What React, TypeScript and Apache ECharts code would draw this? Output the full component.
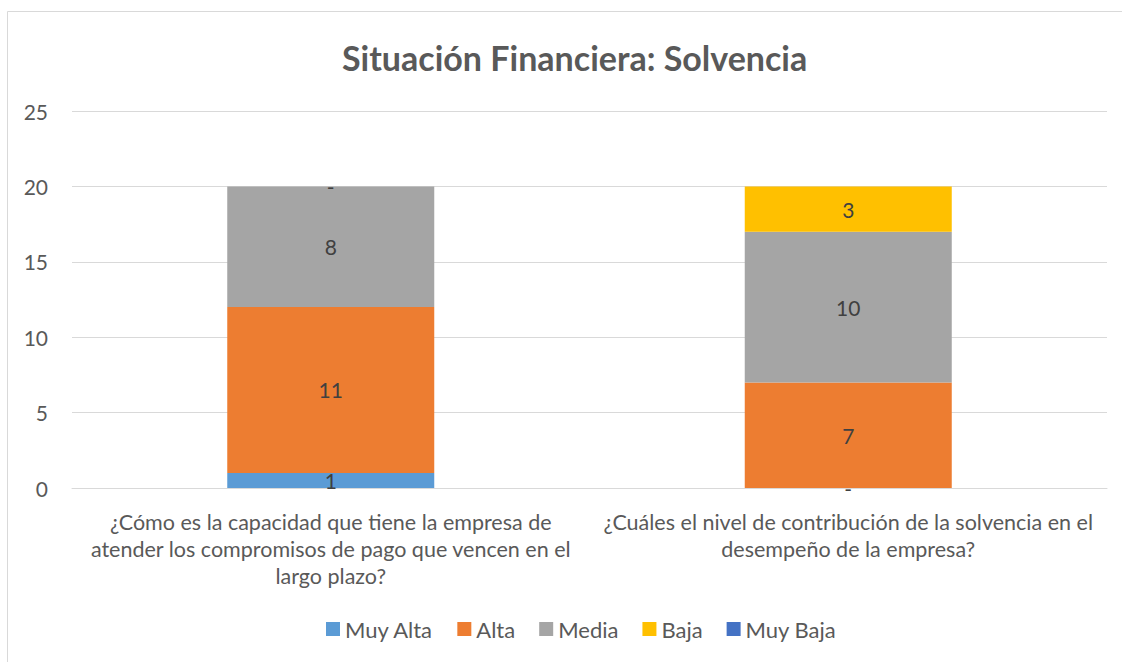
import React, { useEffect, useRef } from "react";
import * as echarts from "echarts";

const title = "Situación Financiera: Solvencia";
const categories = [
  "¿Cómo es la capacidad que tiene la empresa de\natender los compromisos de pago que vencen en el\nlargo plazo?",
  "¿Cuáles el nivel de contribución de la solvencia en el\ndesempeño de la empresa?",
];
const seriesNames = ["Muy Alta", "Alta", "Media", "Baja", "Muy Baja"];
const muyAlta = [1, 0];
const alta = [11, 7];
const media = [8, 10];
const baja = [0, 3];
const muyBaja = [null, null];
const colors = ["#5b9bd5", "#ed7d31", "#a5a5a5", "#ffc000", "#4472c4"];
const yTicks = { min: 0, max: 25, interval: 5 };

const FONT = "Lato, 'Open Sans', sans-serif";

export default function App() {
  const ref = useRef<HTMLDivElement>(null);
  useEffect(() => {
    document.body.style.margin = "0";
    const chart = echarts.init(ref.current!, null, { renderer: "svg" });
    const values = [muyAlta, alta, media, baja, muyBaja];
    chart.setOption({
      animation: false,
      color: colors,
      textStyle: { fontFamily: FONT },
      title: {
        text: title,
        left: 337,
        top: 35,
        textStyle: { fontSize: 34, fontWeight: "bold", color: "#595959", fontFamily: FONT },
      },
      graphic: [
        {
          type: "rect",
          shape: { x: 7.5, y: 11.5, width: 1200, height: 700 },
          style: { fill: "none", stroke: "#d9d9d9", lineWidth: 1 },
          silent: true,
        },
      ],
      legend: {
        bottom: 17,
        left: 321,
        itemWidth: 14,
        itemHeight: 14,
        itemGap: 24,
        icon: "rect",
        textStyle: { fontSize: 22, color: "#595959", fontFamily: FONT },
        data: seriesNames,
      },
      grid: { left: 72, right: 15, top: 111, bottom: 174, containLabel: false },
      xAxis: {
        type: "category",
        data: categories,
        axisLine: { lineStyle: { color: "#d9d9d9" } },
        axisTick: { show: false },
        axisLabel: {
          fontSize: 21.5,
          color: "#595959",
          lineHeight: 27,
          margin: 20,
          interval: 0,
          align: "center",
          fontFamily: FONT,
        },
      },
      yAxis: {
        type: "value",
        min: yTicks.min,
        max: yTicks.max,
        interval: yTicks.interval,
        axisLine: { show: false },
        axisTick: { show: false },
        splitLine: { lineStyle: { color: "#d9d9d9" } },
        axisLabel: { fontSize: 21, color: "#595959", margin: 24, fontFamily: FONT },
      },
      series: seriesNames.map((name, i) => ({
        name,
        type: "bar",
        stack: "total",
        barWidth: "40%",
        data: values[i],
        itemStyle: { color: colors[i] },
        label: {
          show: true,
          position: "inside",
          fontSize: 21,
          color: "#404040",
          fontFamily: FONT,
          formatter: (p: any) => (p.value === 0 ? "-" : String(p.value)),
        },
      })),
    });
    return () => chart.dispose();
  }, []);
  return <div ref={ref} style={{ width: 1122, height: 662 }} />;
}
